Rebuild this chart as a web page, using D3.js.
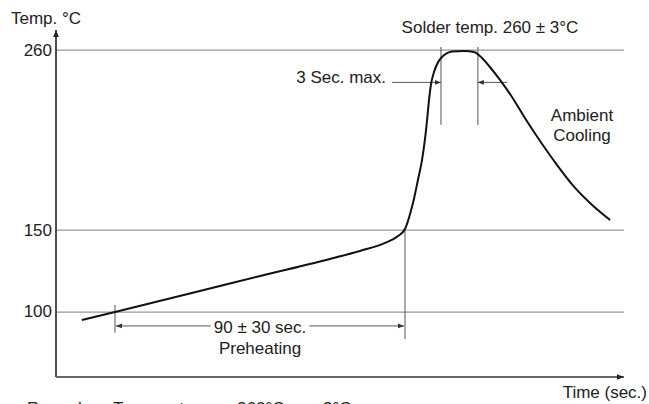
<!DOCTYPE html>
<html>
<head>
<meta charset="utf-8">
<script src="https://cdn.jsdelivr.net/npm/d3@7"></script>
<style>
  body { margin: 0; background: #fff; }
  text { font-family: "Liberation Sans", Arial, sans-serif; fill: #222; }
</style>
</head>
<body>
<div id="chart"></div>
<script>
// Data: reflow profile (time in s, temperature in °C)
const times = [8.2, 18.7, 45.6, 64.7, 86.8, 96.3, 104.3, 108.4, 110.6, 112.2, 113.5, 114.7, 116, 116.9, 117.6, 118.2, 118.8, 119.8, 121.1, 123, 125.5, 129.3, 132.5, 135, 137.5, 140.7, 144.5, 148.6, 153.4, 158.8, 164.5, 169.9, 175.6]
const temps = [94.8, 99.7, 112.5, 121.7, 132.1, 137, 141.9, 146.1, 150.4, 159.6, 169.4, 180.4, 192.6, 204.8, 217, 229.2, 238.4, 246.3, 252.4, 256.7, 258.9, 259.2, 258.6, 254.9, 249.4, 241.5, 231.1, 218.2, 204.2, 189.5, 175.5, 165.1, 155.9]
const tempTicks = [100, 150, 260]
const preheat = [18.7, 110.6]   // start / end of preheating
const dwell = [122, 133.7]      // 3 sec. max window

const dataset = times.map((t, i) => ({ t, temp: temps[i] }))

// Dimensions
let dimensions = {
  width: 649,
  height: 404,
  margin: { top: 30, bottom: 27, left: 56, right: 25 }
}
dimensions.ctrWidth = dimensions.width - dimensions.margin.left - dimensions.margin.right
dimensions.ctrHeight = dimensions.height - dimensions.margin.top - dimensions.margin.bottom

const svg = d3.select('#chart')
  .append('svg')
  .attr('width', dimensions.width)
  .attr('height', dimensions.height)

const defs = svg.append('defs')
const arrow = (id, color, w) => defs.append('marker')
  .attr('id', id)
  .attr('viewBox', '0 -5 10 10')
  .attr('refX', 10)
  .attr('markerWidth', w)
  .attr('markerHeight', w)
  .attr('markerUnits', 'userSpaceOnUse')
  .attr('orient', 'auto-start-reverse')
  .append('path')
  .attr('d', 'M0,-4L10,0L0,4Z')
  .attr('fill', color)
arrow('ax', '#222', 7)
arrow('dim', '#333', 6)

const ctr = svg.append('g')
  .attr('transform', `translate(${dimensions.margin.left}, ${dimensions.margin.top})`)

// Scales
const xScale = d3.scaleLinear()
  .domain([0, 180])
  .range([0, dimensions.ctrWidth])

const yScale = d3.scaleLinear()
  .domain([60, 272])
  .range([dimensions.ctrHeight, 0])

// Gridlines + tick labels
const yAxis = d3.axisLeft(yScale)
  .tickValues(tempTicks)
  .tickSizeInner(-dimensions.ctrWidth)
  .tickSizeOuter(0)
  .tickPadding(4)

const yg = ctr.append('g').call(yAxis)
yg.select('.domain').remove()
yg.selectAll('.tick line').attr('stroke', '#999').attr('stroke-width', 1.2)
yg.selectAll('.tick text')
  .attr('font-size', 17)
  .attr('fill', '#222')
  .style('font-family', '"Liberation Sans", Arial, sans-serif')

// Axes with arrows
ctr.append('line')
  .attr('x1', 0).attr('x2', 0)
  .attr('y1', dimensions.ctrHeight).attr('y2', 0)
  .attr('stroke', '#222').attr('stroke-width', 1.6)
  .attr('marker-end', 'url(#ax)')

ctr.append('line')
  .attr('x1', 0).attr('x2', dimensions.ctrWidth)
  .attr('y1', dimensions.ctrHeight).attr('y2', dimensions.ctrHeight)
  .attr('stroke', '#666').attr('stroke-width', 2.2)
  .attr('marker-end', 'url(#ax)')

// Dimension lines
const dimLine = (x1, y1, x2, y2) => ctr.append('line')
  .attr('x1', x1).attr('y1', y1).attr('x2', x2).attr('y2', y2)
  .attr('stroke', '#555').attr('stroke-width', 1)

// preheating
dimLine(xScale(preheat[0]), yScale(104), xScale(preheat[0]), yScale(87))
dimLine(xScale(preheat[1]), yScale(150), xScale(preheat[1]), yScale(83.2))
dimLine(xScale(preheat[0]) + 1, yScale(91.2), xScale(preheat[1]) - 1, yScale(91.2))
  .attr('marker-start', 'url(#dim)')
  .attr('marker-end', 'url(#dim)')

// 3 sec. window
dwell.forEach(d => dimLine(xScale(d), yScale(261.6), xScale(d), yScale(214)))
dimLine(xScale(106.5), yScale(240), xScale(dwell[0]), yScale(240))
  .attr('marker-end', 'url(#dim)')
dimLine(xScale(143), yScale(240), xScale(dwell[1]), yScale(240))
  .attr('marker-end', 'url(#dim)')

// Profile curve
const line = d3.line()
  .x(d => xScale(d.t))
  .y(d => yScale(d.temp))
  .curve(d3.curveMonotoneX)

ctr.append('path')
  .datum(dataset)
  .attr('d', line)
  .attr('fill', 'none')
  .attr('stroke', '#111')
  .attr('stroke-width', 2)

// Labels
const label = (txt, x, y, anchor = 'middle') => svg.append('text')
  .attr('x', x).attr('y', y)
  .attr('text-anchor', anchor)
  .attr('font-size', 17)
  .text(txt)

const midX = dimensions.margin.left + (xScale(preheat[0]) + xScale(preheat[1])) / 2
const pre = label('90 ± 30 sec.', midX, 333)
const bb = pre.node().getBBox()
svg.insert('rect', () => pre.node())
  .attr('x', bb.x - 3).attr('y', bb.y + 2)
  .attr('width', bb.width + 6).attr('height', bb.height - 4)
  .attr('fill', '#fff')
label('Preheating', midX, 354)

label('Temp. °C', 11, 24, 'start')
label('Solder temp. 260 ± 3°C', 490, 33)
label('3 Sec. max.', 386, 83, 'end')
label('Ambient', 582, 121)
label('Cooling', 582, 141)
label('Time (sec.)', 647, 398, 'end')

// cut-off remark at the bottom
const rem = svg.append('text').attr('y', 414).attr('font-size', 17)
rem.append('tspan').attr('x', 27).text('Remark:')
rem.append('tspan').attr('x', 113).text('Temperature :')
rem.append('tspan').attr('x', 237).text('260°C')
rem.append('tspan').attr('x', 298).text('±')
rem.append('tspan').attr('x', 323).text('3°C')
</script>
</body>
</html>
